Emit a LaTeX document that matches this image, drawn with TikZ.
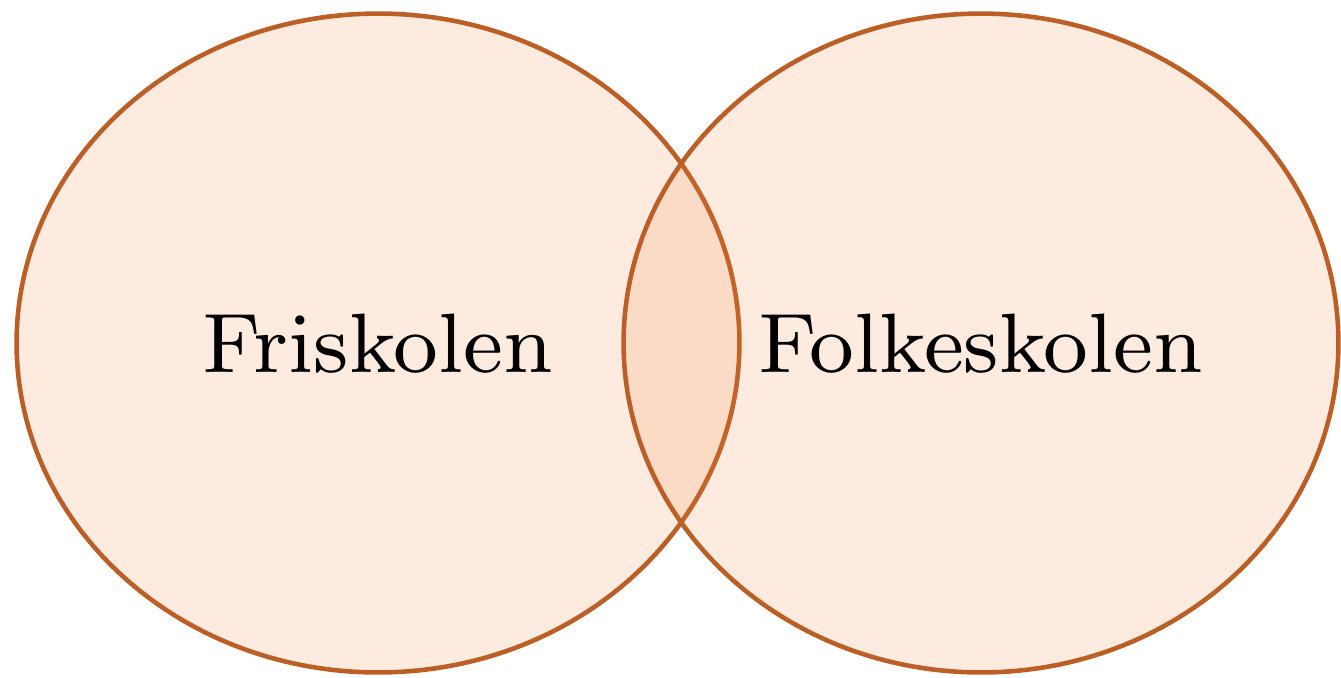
\documentclass[tikz,border=0pt]{standalone}
\usetikzlibrary{shapes.geometric}
\definecolor{setline}{RGB}{188,95,38}
\definecolor{setfill}{RGB}{242,122,48}
\font\setfont=cmr8 at 48pt

\begin{document}
\begin{tikzpicture}[
    x=0.02cm, y=-0.02cm,
    set/.style={draw=setline, line width=2.6pt, ellipse, fill=setfill,
      fill opacity=0.15, text opacity=1, minimum height=13.18cm,
      font=\setfont},
  ]
  \useasboundingbox (0,0) rectangle (1341,677);

  \node[set, minimum width=14.46cm] (fri) at (378,343) {Friskolen};
  \node[set, minimum width=14.30cm] (folk) at (981,343) {Folkeskolen};

\end{tikzpicture}
\end{document}
